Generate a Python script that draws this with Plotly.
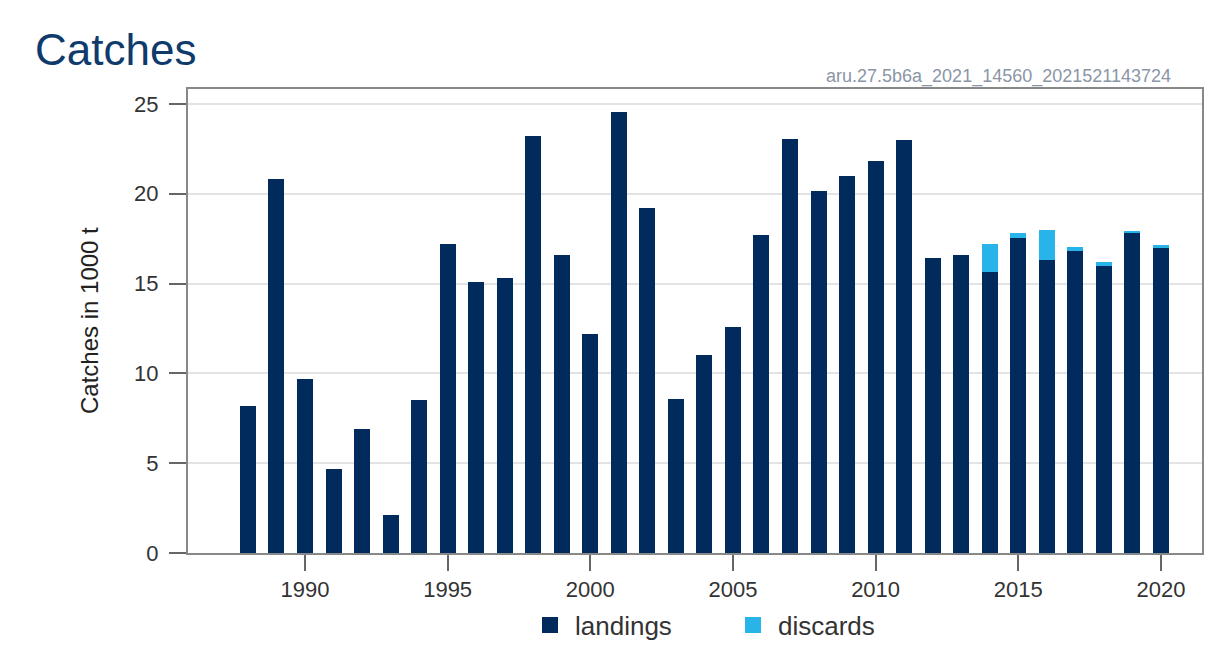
import plotly.graph_objects as go

years = list(range(1988, 2021))
landings = [8.2, 20.8, 9.7, 4.7, 6.9, 2.1, 8.5, 17.2, 15.1, 15.3,
            23.2, 16.6, 12.2, 24.55, 19.2, 8.6, 11.0, 12.6, 17.7, 23.05,
            20.15, 21.0, 21.85, 23.0, 16.4, 16.6, 15.66, 17.52, 16.3, 16.8,
            16.0, 17.83, 17.0]
discards = [0]*26 + [1.55, 0.28, 1.68, 0.25, 0.22, 0.08, 0.15]
yticks = [0, 5, 10, 15, 20, 25]
xticks = [1990, 1995, 2000, 2005, 2010, 2015, 2020]

W, H = 1230, 655
L, R, T, B = 180, 36, 81, 110
pw, ph = W - L - R, H - T - B

def px_x(p):
    return (p - L) / pw

def px_y(p):
    return (H - B - p) / ph

FONT = "Liberation Sans, Arial, sans-serif"
C_LAND = "#002b5c"
C_DISC = "#28b4e8"

fig = go.Figure()
fig.add_trace(go.Bar(x=years, y=landings, name="landings", width=0.56, showlegend=False,
                     marker=dict(color=C_LAND, line=dict(width=0))))
fig.add_trace(go.Bar(x=years, y=discards, name="discards", width=0.56, showlegend=False,
                     marker=dict(color=C_DISC, line=dict(width=0))))
# legend entries with larger square keys
for nm, col in (("landings", C_LAND), ("discards", C_DISC)):
    fig.add_trace(go.Scatter(x=[None], y=[None], mode="markers", name=nm,
                             marker=dict(symbol="square", size=17, color=col)))

fig.update_layout(
    width=W, height=H,
    margin=dict(l=L, r=R, t=T, b=B, autoexpand=False),
    barmode="stack",
    paper_bgcolor="white", plot_bgcolor="white",
    font=dict(family=FONT, size=22, color="#333333"),
    title=dict(text="Catches", x=27 / W, xanchor="left", y=1 - 42 / H, yanchor="middle",
               xref="container", yref="container",
               font=dict(family=FONT, size=44, color="#0e3a6c")),
    showlegend=True,
    legend=dict(orientation="h", x=px_x(517), xanchor="left", y=px_y(617), yanchor="middle",
                traceorder="normal", itemsizing="trace",
                font=dict(size=26, color="#333333"), itemwidth=40, tracegroupgap=0,
                entrywidth=148, entrywidthmode="pixels"),
    xaxis=dict(range=[1985.9, 2021.44], tickvals=xticks, ticks="outside", ticklen=16,
               tickwidth=2, tickcolor="#666666", showline=True, mirror=True,
               linecolor="#888888", linewidth=2, showgrid=False, zeroline=False,
               tickfont=dict(size=22, color="#333333")),
    yaxis=dict(range=[0, 25.83], tickvals=yticks, ticks="outside", ticklen=17,
               tickwidth=2, tickcolor="#666666", showline=True, mirror=True,
               linecolor="#888888", linewidth=2, showgrid=True, gridcolor="#e3e3e3",
               gridwidth=1.5, zeroline=False, ticklabelstandoff=6,
               tickfont=dict(size=22, color="#333333")),
    annotations=[
        dict(text="Catches in 1000 t", textangle=-90, x=px_x(81), y=0.5, xref="paper",
             yref="paper", showarrow=False, xanchor="center", yanchor="middle",
             font=dict(family=FONT, size=24, color="#222222")),
        dict(text="aru.27.5b6a_2021_14560_2021521143724", x=px_x(1165), y=px_y(68),
             xref="paper", yref="paper", showarrow=False, xanchor="right", yanchor="middle",
             font=dict(family=FONT, size=18, color="#8a95a6")),
    ],
    shapes=[
        dict(type="rect", xref="paper", yref="paper", x0=px_x(-20), x1=px_x(0),
             y0=px_y(H + 20), y1=px_y(-20), fillcolor="black", line=dict(width=0), layer="above"),
        dict(type="rect", xref="paper", yref="paper", x0=px_x(-20), x1=px_x(W + 20),
             y0=px_y(0), y1=px_y(-20), fillcolor="black", line=dict(width=0), layer="above"),
    ],
)

fig.write_html("out.html")
